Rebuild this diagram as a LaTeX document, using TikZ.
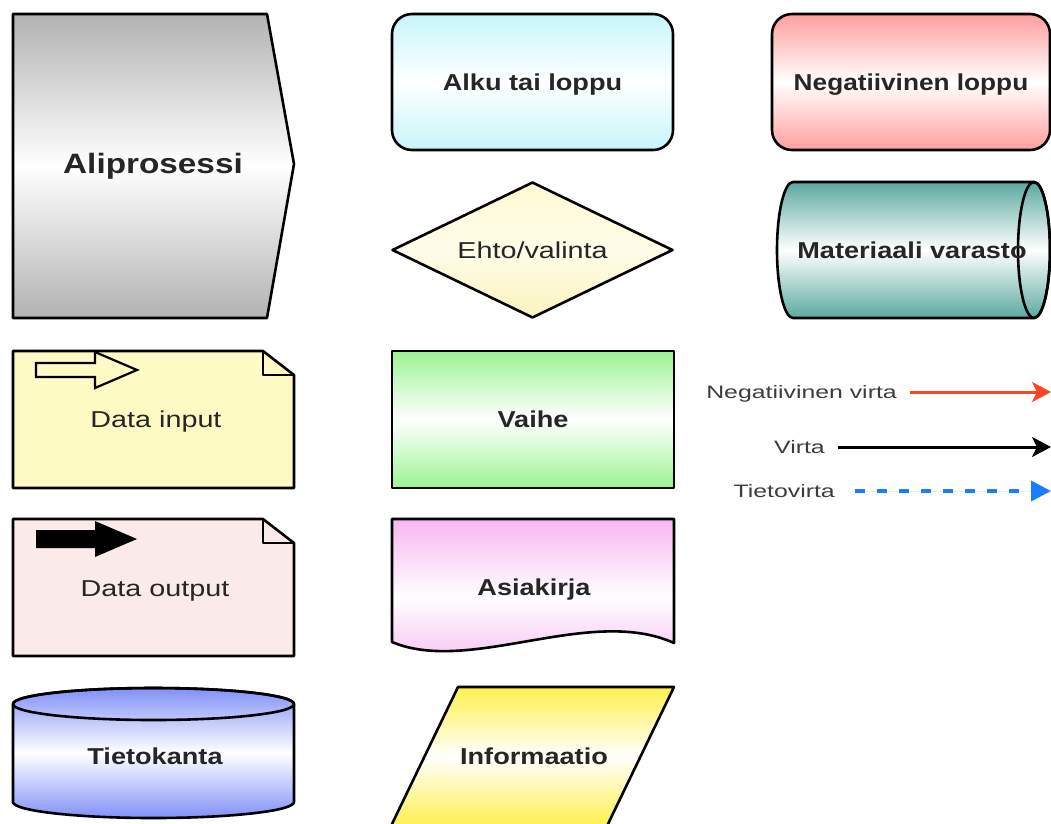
\documentclass[tikz,border=0pt]{standalone}
\usepackage{fontspec}
\setmainfont{Liberation Sans}
\usetikzlibrary{shapes.geometric,arrows.meta}
\definecolor{subgray}{HTML}{B2B2B2}
\definecolor{startcyan}{HTML}{C6F5FA}
\definecolor{endred}{HTML}{FF9E9E}
\definecolor{choicetop}{HTML}{FFFAD2}
\definecolor{choicemid}{HTML}{FFFDEA}
\definecolor{choicebot}{HTML}{FBF2BE}
\definecolor{storeteal}{HTML}{5BA99F}
\definecolor{inyellow}{HTML}{FDFAC4}
\definecolor{outpink}{HTML}{FBEAEA}
\definecolor{stepgreen}{HTML}{9BF493}
\definecolor{docpink}{HTML}{F7B6F1}
\definecolor{dbblue}{HTML}{8191F8}
\definecolor{infoyellow}{HTML}{FFF04C}
\definecolor{labelgray}{HTML}{262626}
\definecolor{leggray}{HTML}{3C3C3C}
\definecolor{negred}{HTML}{FF4422}
\definecolor{datablue}{HTML}{1A7CFF}
\newcommand\wide[2][1.18]{\scalebox{#1}[1]{#2}}

\begin{document}
\begin{tikzpicture}
    [   x=1pt,y=-1pt,
        outline/.style={draw=black,line width=2.6pt,line join=round},
        grad/.style={top color=#1,bottom color=#1,middle color=white},
        bnode/.style={outline,minimum width=281pt,minimum height=136pt,inner sep=0pt},
        lbl/.style={font=\fontsize{23}{27}\selectfont\bfseries,text=labelgray,
            text height=16.5pt,text depth=0pt,inner sep=0pt},
        rlbl/.style={lbl,font=\fontsize{23}{27}\selectfont},
        leglbl/.style={font=\fontsize{18}{21}\selectfont,text=leggray,
            text height=12.9pt,text depth=0pt,inner sep=0pt,anchor=east},
        flow/.style={line width=3pt,-{Stealth[length=19pt,width=20pt,inset=5pt]}},
    ]
    \useasboundingbox (0,0) rectangle (1051,823);

    % left column
    \path[outline,grad=subgray] (13,14) -- (267,14) -- (294,164) -- (267,318) -- (13,318) -- cycle;
    \node[lbl,font=\fontsize{28}{32}\selectfont\bfseries,text height=20pt] (alipro) at (153,163) {\wide[1.19]{Aliprosessi}};

    \path[outline,fill=inyellow] (13,351) -- (263,351) -- (294,375) -- (294,488) -- (13,488) -- cycle;
    \draw[outline] (263,351) -- (263,375) -- (294,375);
    \draw[line width=2.2pt,fill=inyellow] (36,363) -- (95,363) -- (95,352) -- (137,370) -- (95,388) -- (95,377) -- (36,377) -- cycle;
    \node[rlbl] (din) at (156,419) {\wide[1.25]{Data input}};

    \path[outline,fill=outpink] (13,519) -- (263,519) -- (294,543) -- (294,656) -- (13,656) -- cycle;
    \draw[outline] (263,519) -- (263,543) -- (294,543);
    \fill (36,530) -- (95,530) -- (95,521) -- (137,539) -- (95,557) -- (95,548) -- (36,548) -- cycle;
    \node[rlbl] (dout) at (155,588) {\wide[1.25]{Data output}};

    \path[outline,grad=dbblue] (13,704) -- (13,802) arc (180:0:140.5 and 16) -- (294,704) arc (0:-180:140.5 and 16) -- cycle;
    \draw[outline] (153.5,704) ellipse (140.5 and 16);
    \node[lbl] (db) at (155,756) {\wide{Tietokanta}};

    % middle column
    \node[bnode,lbl,rounded corners=20pt,grad=startcyan] (alku) at (532.5,82) {\wide{Alku tai loppu}};
    \node[bnode,rlbl,diamond,aspect=2.066,top color=choicetop,bottom color=choicebot,middle color=choicemid] (ehto) at (532.5,250) {\wide[1.25]{Ehto/valinta}};
    \node[bnode,lbl,minimum width=282pt,minimum height=137pt,grad=stepgreen] (vaihe) at (533,419.5) {\wide{Vaihe}};

    \path[outline,grad=docpink] (392,519) -- (674,519) -- (674,643) .. controls (590,605) and (470,675) .. (392,642) -- cycle;
    \node[lbl] (doc) at (534,587) {\wide{Asiakirja}};

    \path[outline,grad=infoyellow] (458,687) -- (674,687) -- (607,826) -- (391,826) -- cycle;
    \node[lbl] (info) at (534,756) {\wide{Informaatio}};

    % right column
    \node[bnode,lbl,minimum width=278pt,rounded corners=20pt,grad=endred] (negend) at (911,82) {\wide[1.14]{Negatiivinen loppu}};

    \path[outline,grad=storeteal] (793,182) -- (1034,182) arc (-90:90:16 and 68) -- (793,318) arc (90:270:16 and 68) -- cycle;
    \draw[outline] (1034,250) ellipse (16 and 68);
    \node[lbl] (store) at (912,250) {\wide{Materiaali varasto}};

    % legend
    \node[leglbl] (negl) at (897,392) {\wide[1.38]{Negatiivinen virta}};
    \node[leglbl] (virl) at (825,447) {\wide[1.38]{Virta}};
    \node[leglbl] (tietl) at (835,491) {\wide[1.38]{Tietovirta}};
    \coordinate (negtip) at (1051,392);
    \coordinate (virtip) at (1051,447);
    \coordinate (tiettip) at (1051,491);
    \draw[flow,draw=negred,fill=negred,shorten <=13pt] (negl) -- (negtip);
    \draw[flow,shorten <=13pt] (virl) -- (virtip);
    \draw[flow,draw=datablue,fill=datablue,line width=3.6pt,dash pattern=on 10pt off 12pt,shorten <=20pt,
        -{Triangle[length=20pt,width=20pt]}] (tietl) -- (tiettip);
\end{tikzpicture}
\end{document}
